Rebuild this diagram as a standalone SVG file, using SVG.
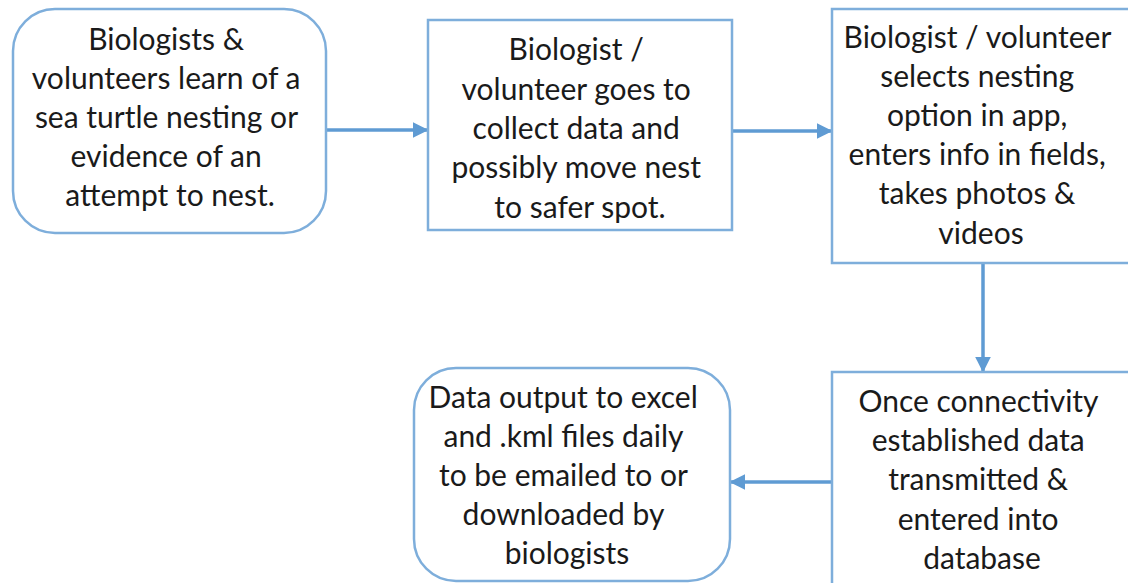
<svg xmlns="http://www.w3.org/2000/svg" width="1128" height="583" viewBox="0 0 1128 583">
  <style>
    .box { fill: #ffffff; stroke: #7eaedb; stroke-width: 2.5; }
    .lbl { font-family: Lato, "Open Sans", sans-serif; font-size: 30px; fill: #1a1a1a; text-anchor: middle; }
    .edge { stroke: #5f9bd3; stroke-width: 3.5; fill: none; marker-end: url(#head); }
  </style>
  <defs>
    <marker id="head" viewBox="0 0 10 10" refX="9" refY="5" markerWidth="4.5" markerHeight="4.5" orient="auto" markerUnits="strokeWidth">
      <path d="M0,0 L10,5 L0,10 z" fill="#5f9bd3"/>
    </marker>
  </defs>

  <rect width="1128" height="583" fill="#ffffff"/>

  <g id="connectors">
    <line class="edge" x1="327" y1="130" x2="427" y2="130"/>
    <line class="edge" x1="732" y1="131" x2="831" y2="131"/>
    <line class="edge" x1="983" y1="263" x2="983" y2="371"/>
    <line class="edge" x1="832" y1="482" x2="731" y2="482"/>
  </g>

  <g id="report">
    <rect class="box" x="13" y="9" width="313" height="224" rx="42"/>
    <text class="lbl">
      <tspan x="170" y="50">Biologists &amp;</tspan>
      <tspan x="170" y="89">volunteers learn of a</tspan>
      <tspan x="170" y="128">sea turtle nesting or</tspan>
      <tspan x="170" y="167">evidence of an</tspan>
      <tspan x="170" y="206">attempt to nest.</tspan>
    </text>
  </g>

  <g id="visit">
    <rect class="box" x="428" y="20" width="304" height="210"/>
    <text class="lbl">
      <tspan x="580" y="60">Biologist /</tspan>
      <tspan x="580" y="100">volunteer goes to</tspan>
      <tspan x="580" y="139">collect data and</tspan>
      <tspan x="580" y="178">possibly move nest</tspan>
      <tspan x="580" y="218">to safer spot.</tspan>
    </text>
  </g>

  <g id="record">
    <rect class="box" x="832" y="9" width="310" height="254"/>
    <text class="lbl">
      <tspan x="981" y="48">Biologist / volunteer</tspan>
      <tspan x="981" y="87">selects nesting</tspan>
      <tspan x="981" y="126">option in app,</tspan>
      <tspan x="981" y="165">enters info in fields,</tspan>
      <tspan x="981" y="204">takes photos &amp;</tspan>
      <tspan x="981" y="244">videos</tspan>
    </text>
  </g>

  <g id="upload">
    <rect class="box" x="832" y="372" width="310" height="230"/>
    <text class="lbl">
      <tspan x="982" y="412">Once connectivity</tspan>
      <tspan x="982" y="451">established data</tspan>
      <tspan x="982" y="490">transmitted &amp;</tspan>
      <tspan x="982" y="530">entered into</tspan>
      <tspan x="982" y="569">database</tspan>
    </text>
  </g>

  <g id="output">
    <rect class="box" x="414" y="368" width="316" height="213" rx="42"/>
    <text class="lbl">
      <tspan x="567" y="408">Data output to excel</tspan>
      <tspan x="567" y="447">and .kml files daily</tspan>
      <tspan x="567" y="486">to be emailed to or</tspan>
      <tspan x="567" y="525">downloaded by</tspan>
      <tspan x="567" y="564">biologists</tspan>
    </text>
  </g>
</svg>
